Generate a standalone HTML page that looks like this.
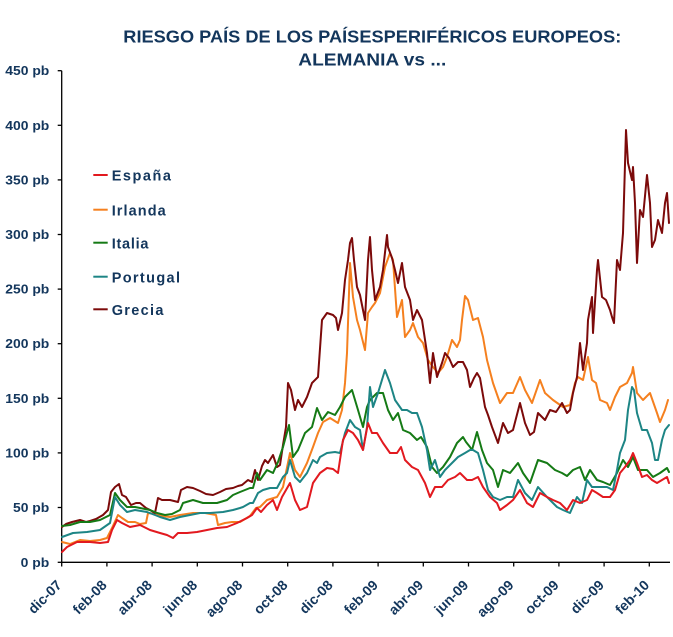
<!DOCTYPE html>
<html>
<head>
<meta charset="utf-8">
<style>
  html,body{margin:0;padding:0;background:#fff;}
  svg{display:block;}
  text{font-family:"Liberation Sans",Arial,sans-serif;font-weight:bold;fill:#13365c;}
  .s{fill:none;stroke-width:2;stroke-linejoin:round;stroke-linecap:round;}
</style>
</head>
<body>
<svg width="673" height="637" viewBox="0 0 673 637" xmlns="http://www.w3.org/2000/svg">
  <rect x="0" y="0" width="673" height="637" fill="#fff"/>

  <!-- Title -->
  <text x="123.3" y="42.7" font-size="17.5" textLength="498" lengthAdjust="spacingAndGlyphs">RIESGO PAÍS DE LOS PAÍSESPERIFÉRICOS EUROPEOS:</text>
  <text x="298.3" y="65.5" font-size="17.5" textLength="148" lengthAdjust="spacingAndGlyphs">ALEMANIA vs ...</text>

  <!-- Y axis labels -->
  <g font-size="13" text-anchor="end">
    <text x="49.3" y="75.2" textLength="44" lengthAdjust="spacingAndGlyphs">450 pb</text>
    <text x="49.3" y="129.8" textLength="44" lengthAdjust="spacingAndGlyphs">400 pb</text>
    <text x="49.3" y="184.4" textLength="44" lengthAdjust="spacingAndGlyphs">350 pb</text>
    <text x="49.3" y="239.0" textLength="44" lengthAdjust="spacingAndGlyphs">300 pb</text>
    <text x="49.3" y="293.6" textLength="44" lengthAdjust="spacingAndGlyphs">250 pb</text>
    <text x="49.3" y="348.2" textLength="44" lengthAdjust="spacingAndGlyphs">200 pb</text>
    <text x="49.3" y="402.8" textLength="44" lengthAdjust="spacingAndGlyphs">150 pb</text>
    <text x="49.3" y="457.4" textLength="44" lengthAdjust="spacingAndGlyphs">100 pb</text>
    <text x="49.3" y="512.0" textLength="36.3" lengthAdjust="spacingAndGlyphs">50 pb</text>
    <text x="49.3" y="566.8" textLength="28.6" lengthAdjust="spacingAndGlyphs">0 pb</text>
  </g>

  <!-- Axes -->
  <g stroke="#000" stroke-width="1.3" fill="none">
    <line x1="61.7" y1="70.7" x2="61.7" y2="562.3"/>
    <line x1="61.7" y1="562.3" x2="670" y2="562.3"/>
    <line x1="57.7" y1="70.7" x2="61.7" y2="70.7"/>
    <line x1="57.7" y1="125.3" x2="61.7" y2="125.3"/>
    <line x1="57.7" y1="179.9" x2="61.7" y2="179.9"/>
    <line x1="57.7" y1="234.5" x2="61.7" y2="234.5"/>
    <line x1="57.7" y1="289.1" x2="61.7" y2="289.1"/>
    <line x1="57.7" y1="343.7" x2="61.7" y2="343.7"/>
    <line x1="57.7" y1="398.3" x2="61.7" y2="398.3"/>
    <line x1="57.7" y1="452.9" x2="61.7" y2="452.9"/>
    <line x1="57.7" y1="507.5" x2="61.7" y2="507.5"/>
    <line x1="57.7" y1="562.3" x2="61.7" y2="562.3"/>
    <line x1="61.7" y1="562.3" x2="61.7" y2="566.5"/>
    <line x1="106.9" y1="562.3" x2="106.9" y2="566.5"/>
    <line x1="152.1" y1="562.3" x2="152.1" y2="566.5"/>
    <line x1="197.3" y1="562.3" x2="197.3" y2="566.5"/>
    <line x1="242.5" y1="562.3" x2="242.5" y2="566.5"/>
    <line x1="287.7" y1="562.3" x2="287.7" y2="566.5"/>
    <line x1="332.9" y1="562.3" x2="332.9" y2="566.5"/>
    <line x1="378.1" y1="562.3" x2="378.1" y2="566.5"/>
    <line x1="423.3" y1="562.3" x2="423.3" y2="566.5"/>
    <line x1="468.5" y1="562.3" x2="468.5" y2="566.5"/>
    <line x1="513.7" y1="562.3" x2="513.7" y2="566.5"/>
    <line x1="558.9" y1="562.3" x2="558.9" y2="566.5"/>
    <line x1="604.1" y1="562.3" x2="604.1" y2="566.5"/>
    <line x1="649.3" y1="562.3" x2="649.3" y2="566.5"/>
  </g>

  <!-- X labels -->
  <g font-size="14" text-anchor="end">
    <text x="62.5" y="586" transform="rotate(-45 62.5 586)">dic-07</text>
    <text x="107.7" y="586" transform="rotate(-45 107.7 586)">feb-08</text>
    <text x="152.9" y="586" transform="rotate(-45 152.9 586)">abr-08</text>
    <text x="198.1" y="586" transform="rotate(-45 198.1 586)">jun-08</text>
    <text x="243.3" y="586" transform="rotate(-45 243.3 586)">ago-08</text>
    <text x="288.5" y="586" transform="rotate(-45 288.5 586)">oct-08</text>
    <text x="333.7" y="586" transform="rotate(-45 333.7 586)">dic-08</text>
    <text x="378.9" y="586" transform="rotate(-45 378.9 586)">feb-09</text>
    <text x="424.1" y="586" transform="rotate(-45 424.1 586)">abr-09</text>
    <text x="469.3" y="586" transform="rotate(-45 469.3 586)">jun-09</text>
    <text x="514.5" y="586" transform="rotate(-45 514.5 586)">ago-09</text>
    <text x="559.7" y="586" transform="rotate(-45 559.7 586)">oct-09</text>
    <text x="604.9" y="586" transform="rotate(-45 604.9 586)">dic-09</text>
    <text x="650.1" y="586" transform="rotate(-45 650.1 586)">feb-10</text>
  </g>

  <!-- Series: Irlanda -->
  <polyline class="s" stroke="#f5801f" points="62,542 70,544 80,540 90,541 100,540 107,538 112,528 118,515 122,518 128,522 135,522 140,524 146,523 148,513 155,514 162,516 170,517 180,515 193,513 205,513 216,515 218,525 225,523 232,522 240,522 250,516 256,508 260,507 267,500 277,497 283,487 290,453 295,470 300,477 307,463 313,447 318,433 323,422 330,418 338,423 342,410 345,383 347,353 350,263 353,297 357,320 360,330 365,350 368,313 372,307 375,303 380,293 385,267 390,253 393,260 397,317 402,300 405,337 410,330 413,323 418,337 423,343 428,360 433,367 438,373 443,367 447,357 452,340 457,347 460,340 462,320 465,296 468,300 473,320 478,318 483,337 487,360 493,383 500,403 507,393 513,393 520,377 525,390 532,403 540,380 545,393 553,400 563,407 570,405 575,383 578,377 583,380 588,357 592,380 596,383 600,400 607,403 610,410 615,397 620,387 627,383 632,373 633,367 637,393 643,400 650,393 657,413 660,422 665,410 668,400"/>

  <!-- Series: Grecia -->
  <polyline class="s" stroke="#7c0a0a" points="62,527 66,524 72,522 80,520 86,522 90,521 96,519 103,515 108,510 111,492 115,487 119,484 122,495 126,497 131,505 136,503 140,503 146,508 150,510 155,513 158,498 162,500 170,500 178,502 181,490 187,487 193,488 200,491 206,494 213,495 220,492 226,489 233,488 238,486 242,485 248,480 252,482 255,470 258,480 262,466 265,460 268,463 273,455 277,467 280,465 283,445 286,427 288,383 291,390 295,410 298,400 302,407 307,397 312,383 318,377 322,320 327,313 333,315 336,318 338,330 342,313 345,280 348,260 350,243 352,238 354,260 357,287 360,295 363,310 365,320 368,260 370,237 372,270 375,300 380,287 383,270 387,235 388,247 392,258 395,270 398,283 402,263 405,287 410,300 413,320 417,310 422,320 427,353 430,383 433,353 437,377 442,363 445,353 449,358 453,367 458,362 463,362 467,370 470,387 474,378 477,373 480,378 485,407 488,415 492,427 495,435 498,443 503,423 508,433 513,430 520,403 525,423 530,435 534,432 538,413 545,420 550,410 556,412 562,403 567,413 570,410 573,393 577,377 580,343 583,370 587,343 588,320 592,297 593,333 597,270 598,260 602,297 606,300 610,310 612,317 614,323 617,260 620,270 623,233 626,130 628,163 632,180 633,167 635,203 637,263 640,210 643,217 647,175 650,203 652,247 655,240 658,220 662,233 665,203 667,193 669,223"/>

  <!-- Series: Italia -->
  <polyline class="s" stroke="#157a15" points="62,526 70,525 80,522 90,522 100,520 110,515 115,493 120,500 127,507 135,507 140,508 150,510 157,513 165,515 172,514 180,510 183,503 193,500 203,503 210,503 217,503 227,500 233,495 240,492 245,490 250,488 253,488 257,473 260,480 267,470 273,473 278,462 283,447 289,425 293,457 298,450 305,433 312,427 317,408 322,420 328,412 335,415 340,407 345,397 349,393 352,390 355,400 358,410 363,427 367,407 370,400 377,393 383,393 388,410 393,420 398,413 403,430 410,433 417,440 421,437 427,447 432,467 437,473 443,467 450,457 457,443 463,437 466,442 470,447 472,450 477,432 482,450 487,463 493,470 498,487 503,470 510,473 518,463 523,473 530,483 538,460 547,463 555,470 562,473 567,476 573,470 580,467 585,480 590,470 597,480 603,482 610,485 617,473 623,460 628,467 633,457 638,470 647,470 653,477 660,473 667,468 669,472"/>

  <!-- Series: Portugal -->
  <polyline class="s" stroke="#1d8585" points="62,537 73,533 87,532 100,530 110,523 115,497 120,505 127,512 135,510 147,512 155,515 160,517 170,520 180,517 190,515 200,513 210,513 223,512 233,510 240,508 243,507 250,503 253,503 258,493 263,490 270,488 277,488 283,477 287,473 290,460 295,477 300,482 307,473 313,460 317,463 320,457 327,453 335,452 340,453 345,433 350,420 355,427 360,430 363,450 367,427 370,387 373,407 378,393 385,370 390,383 395,400 402,410 407,410 412,413 417,413 422,427 427,450 430,470 435,460 440,477 445,470 452,463 458,457 465,453 470,450 473,450 478,453 483,470 488,490 493,497 500,500 507,497 513,497 518,480 525,493 532,500 538,487 547,497 557,507 563,510 570,513 577,497 582,503 587,480 592,487 600,487 607,487 613,490 617,470 620,453 625,440 628,410 632,387 634,390 637,413 642,430 647,430 652,443 655,460 658,460 662,440 665,430 669,425"/>

  <!-- Series: España -->
  <polyline class="s" stroke="#e2191f" points="62,552 67,547 77,542 90,542 100,543 108,542 112,530 117,520 122,523 130,527 140,525 150,530 160,533 167,535 173,538 178,533 187,533 197,532 207,530 217,528 227,527 237,523 247,518 252,515 257,508 261,512 267,505 273,500 277,510 282,497 290,483 295,500 300,510 307,507 313,483 320,473 327,468 333,469 338,473 343,440 348,430 353,433 358,440 363,450 368,423 372,433 377,433 383,443 390,453 397,453 401,447 405,460 412,467 418,470 425,483 430,497 435,487 442,487 448,480 455,477 460,473 467,480 472,480 478,477 483,487 490,497 497,503 500,510 507,505 513,500 520,490 527,503 533,507 540,493 547,497 553,500 560,503 567,510 573,500 580,503 587,500 592,490 597,493 603,497 610,497 615,490 620,473 625,467 630,460 633,453 637,463 642,477 647,475 652,480 657,483 662,480 667,477 669,483"/>

  <!-- Legend -->
  <g stroke-width="2">
    <line x1="93.3" y1="175" x2="107.7" y2="175" stroke="#e2191f"/>
    <line x1="93.3" y1="209.7" x2="107.7" y2="209.7" stroke="#f5801f"/>
    <line x1="93.3" y1="242.7" x2="107.7" y2="242.7" stroke="#157a15"/>
    <line x1="93.3" y1="276.7" x2="107.7" y2="276.7" stroke="#1d8585"/>
    <line x1="93.3" y1="309.3" x2="107.7" y2="309.3" stroke="#7c0a0a"/>
  </g>
  <g font-size="14.5">
    <text x="111.7" y="180.7" textLength="59.3">España</text>
    <text x="111.7" y="215.3" textLength="54">Irlanda</text>
    <text x="111.7" y="248.3" textLength="36.7">Italia</text>
    <text x="111.7" y="282.3" textLength="68.3">Portugal</text>
    <text x="111.7" y="314.9" textLength="51.7">Grecia</text>
  </g>
</svg>
</body>
</html>
